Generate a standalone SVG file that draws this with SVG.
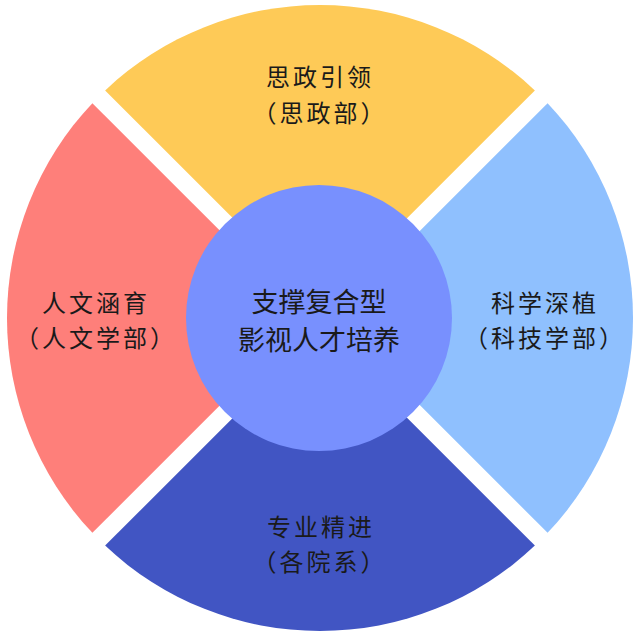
<svg xmlns="http://www.w3.org/2000/svg" width="640" height="640" viewBox="0 0 640 640">
<style>
.lbl{font-family:"Noto Sans CJK SC","Noto Sans",sans-serif;font-size:24px;fill:#1a1a1a;text-anchor:middle;dominant-baseline:central}
.t1{letter-spacing:3px}
.t2{letter-spacing:3px}
.ctr{font-family:"Noto Sans CJK SC","Noto Sans",sans-serif;font-size:27px;fill:#1a1a1a;text-anchor:middle;dominant-baseline:central}
</style>
<rect width="640" height="640" fill="#ffffff"/>
<g id="connectors"></g>
<g id="top">
<path d="M320,305.27 L105.13,90.40 A313,313 0 0 1 534.87,90.40 Z" fill="#FECA57"/>
<text class="lbl t1" x="320" y="75">思政引领</text>
<text class="lbl t2" x="320" y="111">（思政部）</text>
</g>
<g id="right">
<path d="M332.73,318 L547.60,103.13 A313,313 0 0 1 547.60,532.87 Z" fill="#8FC0FE"/>
<text class="lbl t1" x="545" y="301">科学深植</text>
<text class="lbl t2" x="545" y="336">（科技学部）</text>
</g>
<g id="bottom">
<path d="M320,330.73 L534.87,545.60 A313,313 0 0 1 105.13,545.60 Z" fill="#4155C3"/>
<text class="lbl t1" x="321" y="525">专业精进</text>
<text class="lbl t2" x="320" y="560">（各院系）</text>
</g>
<g id="left">
<path d="M307.27,318 L92.40,532.87 A313,313 0 0 1 92.40,103.13 Z" fill="#FE7F7A"/>
<text class="lbl t1" x="96" y="301">人文涵育</text>
<text class="lbl t2" x="96" y="336">（人文学部）</text>
</g>
<g id="center">
<circle cx="319" cy="318" r="133" fill="#7890FE"/>
<text class="ctr" x="319" y="300">支撑复合型</text>
<text class="ctr" x="319" y="338">影视人才培养</text>
</g>
</svg>
